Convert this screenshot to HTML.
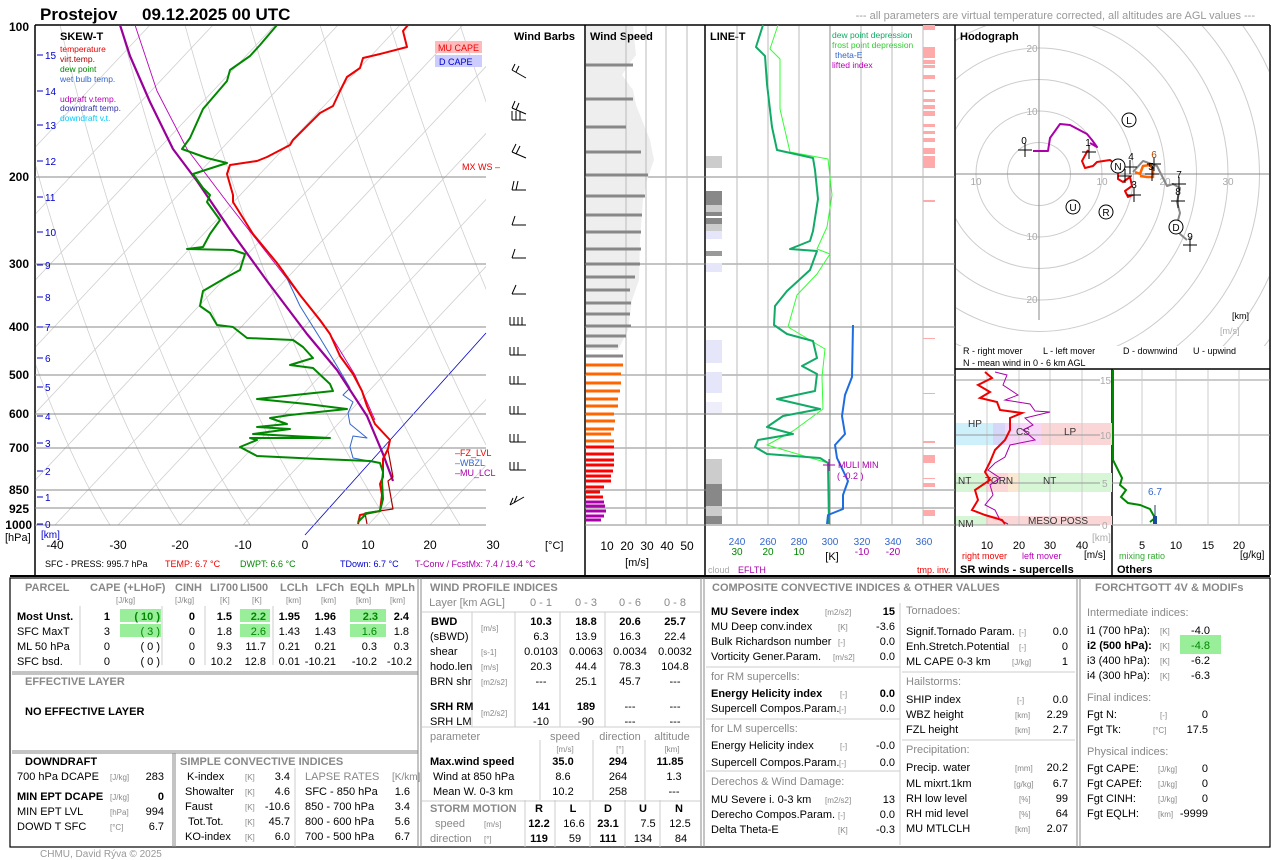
<!DOCTYPE html>
<html><head><meta charset="utf-8"><style>
body{margin:0;background:#fff}
svg{display:block;font-family:"Liberation Sans",sans-serif}
.t{font-size:11px;fill:#000}
.s{font-size:8px;fill:#888}
.g{font-size:11px;fill:#888;font-weight:bold}
.gl{font-size:11px;fill:#888}
</style></head><body>
<svg width="1280" height="860" viewBox="0 0 1280 860" xmlns="http://www.w3.org/2000/svg">
<defs>
<clipPath id="sk"><rect x="36" y="26" width="450" height="499"/></clipPath>
<clipPath id="ho"><rect x="956" y="26" width="313" height="320"/></clipPath>
</defs>
<rect width="1280" height="860" fill="#fff"/>
<text x="40" y="20" font-size="17" font-weight="bold">Prostejov</text>
<text x="142" y="20" font-size="17" font-weight="bold">09.12.2025 00 UTC</text>
<text x="1255" y="19" font-size="11" fill="#999" text-anchor="end">--- all parameters are virtual temperature corrected, all altitudes are AGL values ---</text>

<g stroke="#000" fill="none" stroke-width="1.5">
<line x1="35" y1="25" x2="1270" y2="25"/>
<line x1="35" y1="25" x2="35" y2="575"/>
<line x1="585" y1="25" x2="585" y2="575"/>
<line x1="705" y1="25" x2="705" y2="575"/>
<line x1="955" y1="25" x2="955" y2="575"/>
<line x1="1270" y1="25" x2="1270" y2="575"/>
<line x1="955" y1="369" x2="1270" y2="369"/>
<line x1="1112" y1="369" x2="1112" y2="575"/>
<line x1="10" y1="576" x2="1270" y2="576" stroke-width="2"/>
</g>

<g clip-path="url(#sk)" stroke="#d0d0d0" stroke-width="0.8" fill="none">
<line x1="-320" y1="525" x2="150" y2="25"/><line x1="-257" y1="525" x2="213" y2="25"/><line x1="-195" y1="525" x2="275" y2="25"/><line x1="-132" y1="525" x2="338" y2="25"/><line x1="-70" y1="525" x2="400" y2="25"/><line x1="-7" y1="525" x2="463" y2="25"/><line x1="55" y1="525" x2="525" y2="25"/><line x1="118" y1="525" x2="588" y2="25"/><line x1="180" y1="525" x2="650" y2="25"/><line x1="243" y1="525" x2="713" y2="25"/><line x1="368" y1="525" x2="838" y2="25"/><line x1="430" y1="525" x2="900" y2="25"/>
<path d="M110 525 Q20 380 -60 25"/><path d="M180 525 Q80 370 0 25"/><path d="M250 525 Q140 360 60 25"/><path d="M320 525 Q205 350 120 25"/><path d="M390 525 Q270 340 185 25"/><path d="M460 525 Q340 330 250 25"/><path d="M530 525 Q410 320 320 25"/><path d="M600 525 Q480 310 390 25"/><path d="M670 525 Q550 300 460 25"/><path d="M740 525 Q620 290 530 25"/>
</g>
<line x1="305" y1="535" x2="486" y2="333" stroke="#00c" stroke-width="0.8"/>
<g stroke="#888" stroke-width="1">
<path d="M35 177H486M585 177H955M35 264H486M585 264H955M35 327H486M585 327H955M35 375H486M585 375H955M35 414H486M585 414H955M35 448H486M585 448H955M35 490H486M585 490H955M35 508H486M585 508H955M35 525H486M585 525H955"/>
</g>
<g font-size="12" font-weight="bold" text-anchor="end">
<text x="29" y="31">100</text><text x="29" y="181">200</text><text x="29" y="268">300</text><text x="29" y="331">400</text><text x="29" y="379">500</text><text x="29" y="418">600</text><text x="29" y="452">700</text><text x="29" y="494">850</text><text x="29" y="513">925</text><text x="32" y="529">1000</text>
</g>
<text x="5" y="541" font-size="11">[hPa]</text>
<text x="41" y="538" font-size="10" fill="#00c">[km]</text>
<g font-size="10" fill="#00c">
<text x="45" y="59">15</text><text x="45" y="95">14</text><text x="45" y="129">13</text><text x="45" y="165">12</text><text x="45" y="201">11</text><text x="45" y="236">10</text><text x="45" y="269">9</text><text x="45" y="301">8</text><text x="45" y="331">7</text><text x="45" y="362">6</text><text x="45" y="391">5</text><text x="45" y="420">4</text><text x="45" y="447">3</text><text x="45" y="475">2</text><text x="45" y="501">1</text><text x="45" y="528">0</text>
</g>
<path d="M37 55h6M37 91h6M37 125h6M37 161h6M37 197h6M37 232h6M37 265h6M37 297h6M37 327h6M37 358h6M37 387h6M37 416h6M37 443h6M37 471h6M37 497h6M37 524h6" stroke="#00c"/>
<g font-size="12" text-anchor="middle">
<text x="55" y="549">-40</text><text x="118" y="549">-30</text><text x="180" y="549">-20</text><text x="243" y="549">-10</text><text x="305" y="549">0</text><text x="368" y="549">10</text><text x="430" y="549">20</text><text x="493" y="549">30</text>
</g>
<text x="545" y="549" font-size="11">[°C]</text>
<text x="45" y="567" font-size="9">SFC - PRESS: 995.7 hPa</text>
<text x="165" y="567" font-size="9" fill="#e00">TEMP: 6.7 °C</text>
<text x="240" y="567" font-size="9" fill="#080">DWPT: 6.6 °C</text>
<text x="340" y="567" font-size="9" fill="#00c">TDown: 6.7 °C</text>
<text x="415" y="567" font-size="9" fill="#a0a">T-Conv / FcstMx: 7.4 / 19.4 °C</text>

<text x="60" y="40" font-size="11" font-weight="bold">SKEW-T</text>
<g font-size="8.5">
<text x="60" y="52" fill="#e00">temperature</text><text x="60" y="62" fill="#a00">virt.temp.</text><text x="60" y="72" fill="#080">dew point</text><text x="60" y="82" fill="#36c">wet bulb temp.</text>
<text x="60" y="102" fill="#b0b">udpraft v.temp.</text><text x="60" y="111" fill="#33a">downdraft temp.</text><text x="60" y="121" fill="#0cf">downdraft v.t.</text>
</g>
<rect x="435" y="41" width="47" height="12" fill="#fbb"/><text x="438" y="51" font-size="9" fill="#e00">MU CAPE</text>
<rect x="435" y="55" width="47" height="12" fill="#ccf"/><text x="439" y="65" font-size="9" fill="#00c">D CAPE</text>
<text x="462" y="170" font-size="9" fill="#e00">MX WS –</text>
<text x="455" y="456" font-size="9" fill="#e00">–FZ_LVL</text>
<text x="455" y="466" font-size="9" fill="#36c">–WBZL</text>
<text x="455" y="476" font-size="9" fill="#a0a">–MU_LCL</text>

<g clip-path="url(#sk)" fill="none" stroke-linejoin="round">
<polyline stroke="#b0b" stroke-width="0.9" points="135,25 157,91 187,149 227,202 277,266 330,334 355,375 375,420"/>
<polyline stroke="#36c" stroke-width="1" points="380,463 353,458 350,447 353,436 367,438 350,424 348,413 353,402 343,395 350,388 337,366 320,338 300,306 283,270"/>
<polyline stroke="#909" stroke-width="2.2" points="393,481 383,454 367,416 337,370 307,334 267,281 233,234 197,181 173,149 150,102 130,56 120,25"/>
<polyline stroke="#a00" stroke-width="1.2" points="367,524 365,513 393,509 388,481 393,477 388,450"/>
<polyline stroke="#e00" stroke-width="2" points="358,524 360,515 380,511 382,495 380,484 383,477 383,459 388,449 390,440 375,424 367,406 362,391 353,374 340,356 330,334 320,320 300,295 277,263 253,234 233,202 233,195 227,174 230,165 257,161 267,157 290,145 293,140 320,113 333,106 340,91 347,77 360,68 363,58 380,54 407,47 403,31 408,25"/>
<polyline stroke="#080" stroke-width="2" points="358,522 367,513 380,511 383,499 382,481 383,472 380,463 370,461 320,459 257,456 240,447 257,440 250,438 330,438 253,434 290,429 257,427 287,424 270,418 290,415 347,409 307,404 257,399 333,391 330,384 313,368 290,365 313,358 303,347 293,340 247,338 233,327 217,325 210,313 200,306 203,291 227,277 240,270 245,254 233,250 187,249 203,247 210,234 220,220 207,202 210,195 203,188 193,174 227,163 207,158 182,149 190,138 203,109 227,81 230,70 250,56 260,45 277,25"/>
</g>

<text x="514" y="40" font-size="11" font-weight="bold">Wind Barbs</text>
<g stroke="#000" fill="none" stroke-width="1">
<path d="M512 70l14 8M512 70l3-6M516 72l3-6"/>
<path d="M512 108l14 6M512 108l3-7M516 110l3-7"/>
<path d="M512 120h14M512 120v-9M516 120v-9M520 120v-9"/>
<path d="M512 152l14 6M512 152l4-8M516 154l4-8"/>
<path d="M512 190h14M512 190l2-9M516 190l2-9"/>
<path d="M512 225h14M512 225l3-9"/>
<path d="M512 258h14M512 258l3-9"/>
<path d="M512 294h14M512 294l4-9"/>
<path d="M510 325h16M510 325v-8M514 325v-8M518 325v-8M522 325v-8"/>
<path d="M510 355h16M510 355v-8M514 355v-8M518 355v-8"/>
<path d="M510 384h16M510 384v-8M514 384v-8M518 384v-8"/>
<path d="M510 414h16M510 414v-8M514 414v-8M518 414v-8"/>
<path d="M510 442h16M510 442v-8M514 442v-8M518 442v-8"/>
<path d="M510 470h16M510 470v-8M514 470v-8M518 470v-8"/>
<path d="M510 505l14-8M510 505l3-7M514 503l3-7"/>
</g>

<polygon fill="#eee" points="586,26 633,26 636,55 632,60 622,75 633,90 636,105 650,140 654,160 647,180 643,200 640,240 639,280 632,300 628,330 618,350 586,350"/>
<text x="590" y="40" font-size="11" font-weight="bold">Wind Speed</text>
<g stroke="#bbb"><line x1="626" y1="26" x2="626" y2="525"/><line x1="646" y1="26" x2="646" y2="525"/><line x1="666" y1="26" x2="666" y2="525"/><line x1="687" y1="26" x2="687" y2="525"/></g>
<g stroke="#888" stroke-width="3">
<path d="M586 65H633M586 99H633M586 127H626M586 152H641M586 175H648M586 196H645M586 215H642M586 232H641M586 249H641M586 264H640M586 277H635M586 290H630M586 303H631M586 314H630M586 326H631M586 336H626M586 346H618M586 356H623"/>
</g>
<g stroke="#f60" stroke-width="3"><path d="M586 365H623M586 374H621M586 383H621M586 391H620M586 399H618M586 406H618M586 414H614M586 421H615M586 429H614M586 434H611M586 441H614"/></g>
<g stroke="#f00" stroke-width="3"><path d="M586 447H614M586 454H614M586 460H614M586 465H614M586 471H613M586 476H611M586 481H611M586 487H604M586 492H600M586 497H603"/></g>
<g stroke="#a0a" stroke-width="3"><path d="M586 502H604M586 506H605M586 511H606M586 516H604M586 520H601"/></g>
<g font-size="12" text-anchor="middle"><text x="607" y="550">10</text><text x="627" y="550">20</text><text x="647" y="550">30</text><text x="667" y="550">40</text><text x="687" y="550">50</text></g>
<text x="637" y="566" font-size="11" text-anchor="middle">[m/s]</text>

<text x="710" y="40" font-size="11" font-weight="bold">LINE-T</text>
<g stroke="#bbb"><line x1="737" y1="26" x2="737" y2="525"/><line x1="768" y1="26" x2="768" y2="525"/><line x1="799" y1="26" x2="799" y2="525"/><line x1="861" y1="26" x2="861" y2="525"/><line x1="892" y1="26" x2="892" y2="525"/><line x1="923" y1="26" x2="923" y2="525"/></g>
<line x1="830" y1="26" x2="830" y2="525" stroke="#888"/>
<g>
<rect x="706" y="156" width="16" height="12" fill="#ccc"/><rect x="706" y="191" width="16" height="14" fill="#888"/><rect x="706" y="205" width="16" height="7" fill="#ccc"/><rect x="706" y="212" width="16" height="4" fill="#888"/><rect x="706" y="218" width="16" height="6" fill="#888"/><rect x="706" y="224" width="16" height="7" fill="#ccc"/><rect x="706" y="231" width="16" height="8" fill="#e6e6fa"/><rect x="706" y="251" width="16" height="5" fill="#999"/><rect x="706" y="263" width="16" height="9" fill="#e6e6fa"/><rect x="706" y="340" width="16" height="23" fill="#e6e6fa"/><rect x="706" y="372" width="16" height="21" fill="#e6e6fa"/><rect x="706" y="402" width="16" height="11" fill="#eeeefa"/><rect x="706" y="459" width="16" height="65" fill="#ccc"/><rect x="706" y="484" width="16" height="22" fill="#888"/><rect x="706" y="516" width="16" height="8" fill="#888"/>
</g>
<g fill="#faa"><rect x="923" y="25" width="12" height="5"/><rect x="923" y="47" width="12" height="11"/><rect x="923" y="60" width="12" height="4"/><rect x="923" y="65" width="12" height="3"/><rect x="923" y="75" width="12" height="4"/><rect x="923" y="90" width="12" height="2"/><rect x="923" y="99" width="12" height="3"/><rect x="923" y="105" width="12" height="4"/><rect x="923" y="111" width="12" height="5"/><rect x="923" y="124" width="12" height="3"/><rect x="923" y="131" width="12" height="3"/><rect x="923" y="138" width="12" height="4"/><rect x="923" y="148" width="12" height="6"/><rect x="923" y="156" width="12" height="12"/><rect x="923" y="200" width="12" height="2"/><rect x="923" y="338" width="12" height="1"/><rect x="923" y="393" width="12" height="1"/><rect x="923" y="441" width="12" height="2"/><rect x="923" y="455" width="12" height="8"/><rect x="923" y="478" width="12" height="1"/><rect x="923" y="483" width="12" height="4"/><rect x="923" y="510" width="12" height="6"/></g>
<g fill="none" stroke-linejoin="round">
<polyline stroke="#3f3" stroke-width="1" points="778,25 770,49 780,59 780,109 790,152 828,159 832,195 827,227 817,249 830,254 817,274 797,295 788,327 825,349 822,377 823,409 793,431 767,445 828,463"/>
<polyline stroke="#1a6" stroke-width="2" points="763,25 756,47 765,56 767,84 772,127 777,150 813,158 815,170 818,199 813,231 810,241 790,249 817,251 810,270 787,291 775,306 774,325 787,334 813,341 817,358 802,366 817,374 815,391 777,399 820,409 783,416 767,427 793,434 758,440 755,447 767,454 820,458 828,463 829,524"/>
<polyline stroke="#1e6de0" stroke-width="2" points="853,325 852,377 845,395 842,416 845,434 835,445 837,458 848,481 843,495 843,509 828,515 827,524"/>
</g>
<path d="M823 465h12M829 459v12" stroke="#a0a"/>
<text x="838" y="468" font-size="9" fill="#a0a">MULI MIN</text>
<text x="837" y="479" font-size="9" fill="#a0a">( -0.2 )</text>
<g font-size="8.5"><text x="832" y="38" fill="#1a6">dew point depression</text><text x="832" y="48" fill="#3c3">frost point depression</text><text x="835" y="58" fill="#36c">theta-E</text><text x="832" y="68" fill="#b0b">lifted index</text></g>
<g font-size="10" text-anchor="middle" fill="#36c"><text x="737" y="545">240</text><text x="768" y="545">260</text><text x="799" y="545">280</text><text x="830" y="545">300</text><text x="862" y="545">320</text><text x="893" y="545">340</text><text x="924" y="545">360</text></g>
<g font-size="10" text-anchor="middle" fill="#080"><text x="737" y="555">30</text><text x="768" y="555">20</text><text x="799" y="555">10</text></g>
<g font-size="10" text-anchor="middle" fill="#a0a"><text x="862" y="555">-10</text><text x="893" y="555">-20</text></g>
<text x="832" y="560" font-size="11" text-anchor="middle">[K]</text>
<text x="708" y="573" font-size="9" fill="#aaa">cloud</text>
<text x="738" y="573" font-size="9" fill="#a0a">EFLTH</text>
<text x="917" y="573" font-size="9" fill="#e00">tmp. inv.</text>

<g clip-path="url(#ho)" fill="none" stroke="#ccc">
<circle cx="1039" cy="174" r="31.5"/><circle cx="1039" cy="174" r="63"/><circle cx="1039" cy="174" r="94.5"/><circle cx="1039" cy="174" r="126"/><circle cx="1039" cy="174" r="157.5"/><circle cx="1039" cy="174" r="189"/><circle cx="1039" cy="174" r="220.5"/><circle cx="1039" cy="174" r="252"/><circle cx="1039" cy="174" r="283.5"/>
</g>
<path d="M1039 26V320M956 174H1269" stroke="#888"/>
<g font-size="10" fill="#aaa" text-anchor="middle"><text x="1032" y="52">20</text><text x="1032" y="115">10</text><text x="1032" y="240">10</text><text x="1032" y="303">20</text><text x="976" y="185">10</text><text x="1102" y="185">10</text><text x="1228" y="185">30</text><text x="1165" y="185">20</text></g>
<text x="960" y="40" font-size="11" font-weight="bold">Hodograph</text>
<g fill="none" stroke-linejoin="round">
<polyline stroke="#a0a" stroke-width="2" points="1033,151 1048,151 1050,138 1060,124 1070,125 1087,134 1092,140 1097,147 1090,143"/>
<polyline stroke="#888" stroke-width="2" points="1133,172 1143,161 1157,166 1167,186 1173,184 1180,188 1177,202 1180,213 1177,224 1180,234 1187,240"/>
<polyline stroke="#f60" stroke-width="2.5" points="1135,172 1140,174 1143,166 1150,165 1153,170 1153,177 1147,177 1140,176"/>
<polyline stroke="#e00" stroke-width="2" points="1088,150 1082,161 1085,168 1093,166 1097,162 1110,160 1118,166 1118,179 1123,182 1130,177 1132,186 1125,191 1128,197 1133,195"/>
</g>
<g stroke="#000" stroke-width="1"><path d="M1018 150h14M1025 143v14M1082 152h14M1089 145v14M1118 176h14M1125 169v14M1127 195h14M1134 188v14M1123 167h14M1130 160v14M1145 174h14M1152 167v14M1147 164h14M1154 157v14M1172 184h14M1179 177v14M1171 201h14M1178 194v14M1183 245h14M1190 238v14"/></g>
<g font-size="10" text-anchor="middle"><text x="1024" y="144">0</text><text x="1088" y="146">1</text><text x="1134" y="188">3</text><text x="1131" y="160">4</text><text x="1151" y="170">5</text><text x="1154" y="158" fill="#a40">6</text><text x="1179" y="178">7</text><text x="1178" y="195">8</text><text x="1190" y="240">9</text></g>
<g fill="#fff" stroke="#000"><circle cx="1129" cy="120" r="7"/><circle cx="1118" cy="166" r="7"/><circle cx="1073" cy="207" r="7"/><circle cx="1106" cy="212" r="7"/><circle cx="1176" cy="227" r="7"/></g>
<g font-size="10" text-anchor="middle"><text x="1129" y="124">L</text><text x="1118" y="170">N</text><text x="1073" y="211">U</text><text x="1106" y="216">R</text><text x="1176" y="231">D</text></g>
<text x="1232" y="319" font-size="9">[km]</text>
<text x="1220" y="334" font-size="9" fill="#aaa">[m/s]</text>
<g font-size="9"><text x="963" y="354">R - right mover</text><text x="1043" y="354">L - left mover</text><text x="1123" y="354">D - downwind</text><text x="1193" y="354">U - upwind</text><text x="963" y="366">N - mean wind in 0 - 6 km AGL</text></g>

<rect x="956" y="423" width="37" height="22" fill="#cdf0fb"/><rect x="993" y="423" width="12" height="22" fill="#d6d6f8"/><rect x="1005" y="423" width="36" height="22" fill="#f8d6f8"/><rect x="1041" y="423" width="71" height="22" fill="#fbd6d6"/>
<rect x="956" y="473" width="30" height="19" fill="#d6f6d6"/><rect x="986" y="473" width="22" height="19" fill="#fbd6d6"/><rect x="1008" y="473" width="11" height="19" fill="#fbe8d0"/><rect x="1019" y="473" width="93" height="19" fill="#d6f6d6"/>
<rect x="956" y="516" width="30" height="9" fill="#d6f6d6"/><rect x="986" y="516" width="126" height="9" fill="#fbd6d6"/>
<g stroke="#ccc"><path d="M987 370V525M1019 370V525M1050 370V525M1082 370V525"/></g>
<g stroke="#999"><path d="M956 380H1100M956 435H1100M956 483H1100M956 525H1100"/></g>
<g stroke="#999"><path d="M1112 380H1270M1112 435H1270M1112 483H1270M1112 525H1270"/></g>
<g stroke="#ccc"><path d="M1142 370V525M1176 370V525M1208 370V525M1239 370V525"/></g>
<g font-size="10" fill="#aaa"><text x="1100" y="384">15</text><text x="1100" y="439">10</text><text x="1102" y="487">5</text><text x="1102" y="529">0</text><text x="1092" y="541">[km]</text></g>
<g font-size="10" fill="#333"><text x="968" y="427">HP</text><text x="1016" y="435">CS</text><text x="1064" y="435">LP</text><text x="958" y="484">NT</text><text x="985" y="484">TORN</text><text x="1043" y="484">NT</text><text x="958" y="527">NM</text><text x="1028" y="524">MESO POSS</text></g>
<polyline fill="none" stroke="#a0a" stroke-width="1" points="995,372 1007,375 1003,385 1018,395 1005,400 1030,404 1035,411 1050,412 1025,418 1033,425 1023,430 1035,440 1010,445 1005,457 995,463 988,470 1000,478 990,485 993,495 985,505 995,510 1000,520 1008,524"/>
<polyline fill="none" stroke="#e00" stroke-width="2" points="985,372 992,378 978,385 990,392 980,398 997,402 1000,410 1022,413 1010,418 1010,430 1005,440 995,450 990,462 985,472 990,480 975,490 978,500 972,510 985,515 1002,520 1005,524"/>
<g font-size="11" text-anchor="middle"><text x="987" y="549">10</text><text x="1019" y="549">20</text><text x="1050" y="549">30</text><text x="1082" y="549">40</text><text x="1142" y="549">5</text><text x="1176" y="549">10</text><text x="1208" y="549">15</text><text x="1239" y="549">20</text></g>
<text x="1084" y="558" font-size="10">[m/s]</text>
<text x="1240" y="558" font-size="10">[g/kg]</text>
<text x="962" y="559" font-size="9" fill="#e00">right mover</text>
<text x="1022" y="559" font-size="9" fill="#b0b">left mover</text>
<text x="1119" y="559" font-size="9" fill="#3a3">mixing ratio</text>
<text x="960" y="573" font-size="11" font-weight="bold">SR winds - supercells</text>
<text x="1117" y="573" font-size="11" font-weight="bold">Others</text>
<polyline fill="none" stroke="#080" stroke-width="2" points="1113,370 1113,460 1118,470 1122,478 1120,485 1126,490 1121,497 1128,503 1140,505 1150,509 1155,518 1150,522"/>
<path d="M1155 505V524" stroke="#246" stroke-width="1"/><rect x="1153" y="516" width="4" height="8" fill="#1a4a9a"/>
<text x="1148" y="495" font-size="10" fill="#36c">6.7</text>

<g fill="none" stroke="#000" stroke-width="1.2"><rect x="10" y="578" width="1260" height="269"/></g>
<g stroke="#888"><path d="M418 578V847M421 578V847M701 578V847M704 578V847M1077 578V847M1080 578V847"/>
<path d="M12 672H418M12 674H418M12 751H418M12 753H418M173 753V847M175 753V847"/></g>
<g stroke="#ccc"><path d="M80 606V665M162 606V665M205 606V665M273 606V665M422 612H700M422 727H700M422 801H700M472 612V727M515 612V727M560 612V727M605 612V727M540 740V800M593 740V800M645 740V800M525 800V847M555 800V847M590 800V847M625 800V847M660 800V847M706 667H900M706 719H900M706 771H900M900 603V845M902 672H1075M902 740H1075M295 768V847"/></g>

<g class="t">
<text x="25" y="591" class="g">PARCEL</text><text x="90" y="591" class="g">CAPE (+LHoF)</text><text x="175" y="591" class="g">CINH</text><text x="210" y="591" class="g">LI700</text><text x="240" y="591" class="g">LI500</text><text x="280" y="591" class="g">LCLh</text><text x="316" y="591" class="g">LFCh</text><text x="350" y="591" class="g">EQLh</text><text x="385" y="591" class="g">MPLh</text>
<text x="116" y="603" class="s">[J/kg]</text><text x="175" y="603" class="s">[J/kg]</text><text x="220" y="603" class="s">[K]</text><text x="252" y="603" class="s">[K]</text><text x="286" y="603" class="s">[km]</text><text x="321" y="603" class="s">[km]</text><text x="356" y="603" class="s">[km]</text><text x="390" y="603" class="s">[km]</text>
</g>
<rect x="120" y="609" width="41" height="13" fill="#9e9"/><rect x="120" y="624" width="41" height="13" fill="#9e9"/><rect x="240" y="609" width="30" height="13" fill="#9e9"/><rect x="240" y="624" width="30" height="13" fill="#9e9"/><rect x="350" y="609" width="36" height="13" fill="#9e9"/><rect x="350" y="624" width="36" height="13" fill="#9e9"/>
<g font-size="11">
<g font-weight="bold"><text x="17" y="620">Most Unst.</text><text x="110" y="620" text-anchor="end">1</text><text x="160" y="620" text-anchor="end" fill="#080">( 10 )</text><text x="195" y="620" text-anchor="end">0</text><text x="232" y="620" text-anchor="end">1.5</text><text x="266" y="620" text-anchor="end" fill="#080">2.2</text><text x="300" y="620" text-anchor="end">1.95</text><text x="336" y="620" text-anchor="end">1.96</text><text x="378" y="620" text-anchor="end" fill="#080">2.3</text><text x="409" y="620" text-anchor="end">2.4</text></g>
<text x="17" y="635">SFC MaxT</text><text x="110" y="635" text-anchor="end">3</text><text x="160" y="635" text-anchor="end" fill="#080">( 3 )</text><text x="195" y="635" text-anchor="end">0</text><text x="232" y="635" text-anchor="end">1.8</text><text x="266" y="635" text-anchor="end" fill="#080">2.6</text><text x="300" y="635" text-anchor="end">1.43</text><text x="336" y="635" text-anchor="end">1.43</text><text x="377" y="635" text-anchor="end" fill="#080">1.6</text><text x="409" y="635" text-anchor="end">1.8</text>
<text x="17" y="650">ML 50 hPa</text><text x="110" y="650" text-anchor="end">0</text><text x="160" y="650" text-anchor="end">( 0 )</text><text x="195" y="650" text-anchor="end">0</text><text x="232" y="650" text-anchor="end">9.3</text><text x="266" y="650" text-anchor="end">11.7</text><text x="300" y="650" text-anchor="end">0.21</text><text x="336" y="650" text-anchor="end">0.21</text><text x="377" y="650" text-anchor="end">0.3</text><text x="409" y="650" text-anchor="end">0.3</text>
<text x="17" y="665">SFC bsd.</text><text x="110" y="665" text-anchor="end">0</text><text x="160" y="665" text-anchor="end">( 0 )</text><text x="195" y="665" text-anchor="end">0</text><text x="232" y="665" text-anchor="end">10.2</text><text x="266" y="665" text-anchor="end">12.8</text><text x="300" y="665" text-anchor="end">0.01</text><text x="336" y="665" text-anchor="end">-10.21</text><text x="377" y="665" text-anchor="end">-10.2</text><text x="412" y="665" text-anchor="end">-10.2</text>
</g>
<text x="25" y="685" class="g">EFFECTIVE LAYER</text>
<text x="25" y="715" font-size="11" font-weight="bold">NO EFFECTIVE LAYER</text>
<g font-size="11">
<text x="25" y="765" font-weight="bold">DOWNDRAFT</text>
<text x="17" y="780">700 hPa DCAPE</text><text x="110" y="780" class="s">[J/kg]</text><text x="164" y="780" text-anchor="end">283</text>
<text x="17" y="800" font-weight="bold">MIN EPT DCAPE</text><text x="110" y="800" class="s">[J/kg]</text><text x="164" y="800" text-anchor="end" font-weight="bold">0</text>
<text x="17" y="815">MIN EPT LVL</text><text x="110" y="815" class="s">[hPa]</text><text x="164" y="815" text-anchor="end">994</text>
<text x="17" y="830">DOWD T SFC</text><text x="110" y="830" class="s">[°C]</text><text x="164" y="830" text-anchor="end">6.7</text>
<text x="180" y="765" class="g">SIMPLE CONVECTIVE INDICES</text>
<text x="187" y="780">K-index</text><text x="245" y="780" class="s">[K]</text><text x="290" y="780" text-anchor="end">3.4</text>
<text x="185" y="795">Showalter</text><text x="245" y="795" class="s">[K]</text><text x="290" y="795" text-anchor="end">4.6</text>
<text x="185" y="810">Faust</text><text x="245" y="810" class="s">[K]</text><text x="290" y="810" text-anchor="end">-10.6</text>
<text x="188" y="825">Tot.Tot.</text><text x="245" y="825" class="s">[K]</text><text x="290" y="825" text-anchor="end">45.7</text>
<text x="185" y="840">KO-index</text><text x="245" y="840" class="s">[K]</text><text x="290" y="840" text-anchor="end">6.0</text>
<text x="305" y="780" class="gl">LAPSE RATES</text><text x="392" y="780" fill="#888" font-size="10">[K/km]</text>
<text x="305" y="795">SFC - 850 hPa</text><text x="410" y="795" text-anchor="end">1.6</text>
<text x="305" y="810">850 - 700 hPa</text><text x="410" y="810" text-anchor="end">3.4</text>
<text x="305" y="825">800 - 600 hPa</text><text x="410" y="825" text-anchor="end">5.6</text>
<text x="305" y="840">700 - 500 hPa</text><text x="410" y="840" text-anchor="end">6.7</text>
</g>
<text x="40" y="857" font-size="10" fill="#999">CHMU, David Rýva © 2025</text>

<g font-size="11">
<text x="430" y="591" class="g">WIND PROFILE INDICES</text>
<g fill="#888" text-anchor="middle"><text x="467" y="606">Layer [km AGL]</text><text x="541" y="606">0 - 1</text><text x="586" y="606">0 - 3</text><text x="630" y="606">0 - 6</text><text x="675" y="606">0 - 8</text></g>
<text x="431" y="625" font-weight="bold">BWD</text><text x="481" y="631" class="s">[m/s]</text>
<text x="430" y="640">(sBWD)</text>
<text x="430" y="655">shear</text><text x="481" y="655" class="s">[s-1]</text>
<text x="430" y="670">hodo.len</text><text x="481" y="670" class="s">[m/s]</text>
<text x="430" y="685">BRN shr</text><text x="481" y="685" class="s">[m2/s2]</text>
<text x="430" y="710" font-weight="bold">SRH RM</text><text x="481" y="716" class="s">[m2/s2]</text>
<text x="430" y="725">SRH LM</text>
<g text-anchor="middle">
<g font-weight="bold"><text x="541" y="625">10.3</text><text x="586" y="625">18.8</text><text x="630" y="625">20.6</text><text x="675" y="625">25.7</text></g>
<text x="541" y="640">6.3</text><text x="586" y="640">13.9</text><text x="630" y="640">16.3</text><text x="675" y="640">22.4</text>
<text x="541" y="655">0.0103</text><text x="586" y="655">0.0063</text><text x="630" y="655">0.0034</text><text x="675" y="655">0.0032</text>
<text x="541" y="670">20.3</text><text x="586" y="670">44.4</text><text x="630" y="670">78.3</text><text x="675" y="670">104.8</text>
<text x="541" y="685">---</text><text x="586" y="685">25.1</text><text x="630" y="685">45.7</text><text x="675" y="685">---</text>
<g font-weight="bold"><text x="541" y="710">141</text><text x="586" y="710">189</text></g><text x="630" y="710">---</text><text x="675" y="710">---</text>
<text x="541" y="725">-10</text><text x="586" y="725">-90</text><text x="630" y="725">---</text><text x="675" y="725">---</text>
<g fill="#888"><text x="565" y="740">speed</text><text x="620" y="740">direction</text><text x="672" y="740">altitude</text></g>
<g class="s"><text x="565" y="752">[m/s]</text><text x="620" y="752">[°]</text><text x="672" y="752">[km]</text></g>
<g font-weight="bold"><text x="563" y="765">35.0</text><text x="618" y="765">294</text><text x="670" y="765">11.85</text></g>
<text x="563" y="780">8.6</text><text x="618" y="780">264</text><text x="674" y="780">1.3</text>
<text x="563" y="795">10.2</text><text x="618" y="795">258</text><text x="674" y="795">---</text>
<g font-weight="bold"><text x="539" y="812">R</text><text x="573" y="812">L</text><text x="608" y="812">D</text><text x="643" y="812">U</text><text x="679" y="812">N</text></g>
<text x="539" y="827" font-weight="bold">12.2</text><text x="574" y="827">16.6</text><text x="608" y="827" font-weight="bold">23.1</text><text x="648" y="827">7.5</text><text x="680" y="827">12.5</text>
<text x="539" y="842" font-weight="bold">119</text><text x="575" y="842">59</text><text x="608" y="842" font-weight="bold">111</text><text x="643" y="842">134</text><text x="681" y="842">84</text>
</g>
<text x="430" y="740" fill="#888">parameter</text>
<text x="430" y="765" font-weight="bold">Max.wind speed</text>
<text x="433" y="780">Wind at 850 hPa</text>
<text x="433" y="795">Mean W. 0-3 km</text>
<text x="430" y="812" class="g">STORM MOTION</text>
<text x="435" y="827" fill="#888">speed</text><text x="484" y="827" class="s">[m/s]</text>
<text x="430" y="842" fill="#888">direction</text><text x="484" y="842" class="s">[°]</text>
</g>

<g font-size="11">
<text x="712" y="591" class="g">COMPOSITE CONVECTIVE INDICES &amp; OTHER VALUES</text>
<text x="711" y="615" font-weight="bold">MU Severe index</text><text x="825" y="615" class="s">[m2/s2]</text><text x="895" y="615" text-anchor="end" font-weight="bold">15</text>
<text x="711" y="630">MU Deep conv.index</text><text x="838" y="630" class="s">[K]</text><text x="895" y="630" text-anchor="end">-3.6</text>
<text x="711" y="645">Bulk Richardson number</text><text x="838" y="645" class="s">[-]</text><text x="895" y="645" text-anchor="end">0.0</text>
<text x="711" y="660">Vorticity Gener.Param.</text><text x="833" y="660" class="s">[m/s2]</text><text x="895" y="660" text-anchor="end">0.0</text>
<text x="711" y="680" fill="#888">for RM supercells:</text>
<text x="711" y="697" font-weight="bold">Energy Helicity index</text><text x="840" y="697" class="s">[-]</text><text x="895" y="697" text-anchor="end" font-weight="bold">0.0</text>
<text x="711" y="712">Supercell Compos.Param.</text><text x="839" y="712" class="s">[-]</text><text x="895" y="712" text-anchor="end">0.0</text>
<text x="711" y="732" fill="#888">for LM supercells:</text>
<text x="711" y="749">Energy Helicity index</text><text x="840" y="749" class="s">[-]</text><text x="895" y="749" text-anchor="end">-0.0</text>
<text x="711" y="766">Supercell Compos.Param.</text><text x="839" y="766" class="s">[-]</text><text x="895" y="766" text-anchor="end">0.0</text>
<text x="711" y="785" fill="#888">Derechos &amp; Wind Damage:</text>
<text x="711" y="803">MU Severe i. 0-3 km</text><text x="825" y="803" class="s">[m2/s2]</text><text x="895" y="803" text-anchor="end">13</text>
<text x="711" y="818">Derecho Compos.Param.</text><text x="838" y="818" class="s">[-]</text><text x="895" y="818" text-anchor="end">0.0</text>
<text x="711" y="833">Delta Theta-E</text><text x="838" y="833" class="s">[K]</text><text x="895" y="833" text-anchor="end">-0.3</text>

<text x="906" y="614" fill="#888">Tornadoes:</text>
<text x="906" y="635">Signif.Tornado Param.</text><text x="1019" y="635" class="s">[-]</text><text x="1068" y="635" text-anchor="end">0.0</text>
<text x="906" y="650">Enh.Stretch.Potential</text><text x="1019" y="650" class="s">[-]</text><text x="1068" y="650" text-anchor="end">0</text>
<text x="906" y="665">ML CAPE 0-3 km</text><text x="1012" y="665" class="s">[J/kg]</text><text x="1068" y="665" text-anchor="end">1</text>
<text x="906" y="685" fill="#888">Hailstorms:</text>
<text x="906" y="703">SHIP index</text><text x="1017" y="703" class="s">[-]</text><text x="1068" y="703" text-anchor="end">0.0</text>
<text x="906" y="718">WBZ height</text><text x="1015" y="718" class="s">[km]</text><text x="1068" y="718" text-anchor="end">2.29</text>
<text x="906" y="733">FZL height</text><text x="1015" y="733" class="s">[km]</text><text x="1068" y="733" text-anchor="end">2.7</text>
<text x="906" y="753" fill="#888">Precipitation:</text>
<text x="906" y="771">Precip. water</text><text x="1015" y="771" class="s">[mm]</text><text x="1068" y="771" text-anchor="end">20.2</text>
<text x="906" y="787">ML mixrt.1km</text><text x="1014" y="787" class="s">[g/kg]</text><text x="1068" y="787" text-anchor="end">6.7</text>
<text x="906" y="802">RH low level</text><text x="1019" y="802" class="s">[%]</text><text x="1068" y="802" text-anchor="end">99</text>
<text x="906" y="817">RH mid level</text><text x="1019" y="817" class="s">[%]</text><text x="1068" y="817" text-anchor="end">64</text>
<text x="906" y="832">MU MTLCLH</text><text x="1015" y="832" class="s">[km]</text><text x="1068" y="832" text-anchor="end">2.07</text>
</g>

<rect x="1180" y="635" width="41" height="19" fill="#9e9"/>
<g font-size="11">
<text x="1095" y="591" class="g">FORCHTGOTT 4V &amp; MODIFs</text>
<text x="1087" y="616" fill="#888">Intermediate indices:</text>
<text x="1087" y="634">i1 (700 hPa):</text><text x="1160" y="634" class="s">[K]</text><text x="1210" y="634" text-anchor="end">-4.0</text>
<text x="1087" y="649" font-weight="bold">i2 (500 hPa):</text><text x="1160" y="649" class="s">[K]</text><text x="1210" y="649" text-anchor="end" fill="#080">-4.8</text>
<text x="1087" y="664">i3 (400 hPa):</text><text x="1160" y="664" class="s">[K]</text><text x="1210" y="664" text-anchor="end">-6.2</text>
<text x="1087" y="679">i4 (300 hPa):</text><text x="1160" y="679" class="s">[K]</text><text x="1210" y="679" text-anchor="end">-6.3</text>
<text x="1087" y="701" fill="#888">Final indices:</text>
<text x="1087" y="718">Fgt N:</text><text x="1160" y="718" class="s">[-]</text><text x="1208" y="718" text-anchor="end">0</text>
<text x="1087" y="733">Fgt Tk:</text><text x="1153" y="733" class="s">[°C]</text><text x="1208" y="733" text-anchor="end">17.5</text>
<text x="1087" y="755" fill="#888">Physical indices:</text>
<text x="1087" y="772">Fgt CAPE:</text><text x="1158" y="772" class="s">[J/kg]</text><text x="1208" y="772" text-anchor="end">0</text>
<text x="1087" y="787">Fgt CAPEf:</text><text x="1158" y="787" class="s">[J/kg]</text><text x="1208" y="787" text-anchor="end">0</text>
<text x="1087" y="802">Fgt CINH:</text><text x="1158" y="802" class="s">[J/kg]</text><text x="1208" y="802" text-anchor="end">0</text>
<text x="1087" y="817">Fgt EQLH:</text><text x="1158" y="817" class="s">[km]</text><text x="1208" y="817" text-anchor="end">-9999</text>
</g>
</svg>
</body></html>
